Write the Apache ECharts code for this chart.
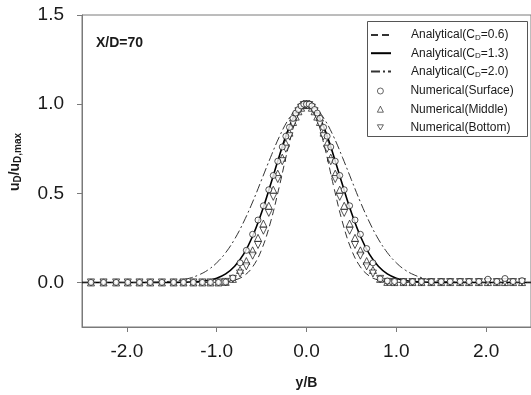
<!DOCTYPE html>
<html><head><meta charset="utf-8">
<script src="https://cdn.jsdelivr.net/npm/echarts@6/dist/echarts.min.js"></script>
<style>html,body{margin:0;padding:0;background:#fff}#c{width:531px;height:395px}</style>
</head><body><div id="c"></div>
<script>
// Analytical curves
const lineX = [-2.5,-2.0,-1.8,-1.7,-1.6,-1.5,-1.4,-1.3,-1.2,-1.1,-1.0,-0.9,-0.8,-0.7,-0.6,-0.5,-0.4,-0.3,-0.2,-0.1,0,0.1,0.2,0.3,0.4,0.5,0.6,0.7,0.8,0.9,1.0,1.1,1.2,1.3,1.4,1.5,1.6,1.7,1.8,2.0,2.5];
const cd06 = [0,0,0,0,0,0,0,0,0,0,0.001,0.004,0.013,0.036,0.087,0.184,0.339,0.544,0.763,0.935,1,0.935,0.763,0.544,0.339,0.184,0.087,0.036,0.013,0.004,0.001,0,0,0,0,0,0,0,0,0,0];
const cd13 = [0,0,0,0,0,0,0.001,0.002,0.005,0.011,0.024,0.048,0.091,0.159,0.259,0.392,0.549,0.714,0.861,0.963,1,0.963,0.861,0.714,0.549,0.392,0.259,0.159,0.091,0.048,0.024,0.011,0.005,0.002,0.001,0,0,0,0,0,0];
const cd20 = [0,0,0.001,0.002,0.004,0.007,0.013,0.024,0.042,0.069,0.110,0.167,0.243,0.339,0.451,0.576,0.702,0.820,0.915,0.978,1,0.978,0.915,0.820,0.702,0.576,0.451,0.339,0.243,0.167,0.110,0.069,0.042,0.024,0.013,0.007,0.004,0.002,0.001,0,0];
// Numerical results
const numX = [-2.40,-2.26,-2.12,-1.99,-1.86,-1.74,-1.61,-1.48,-1.37,-1.26,-1.16,-1.07,-0.98,-0.90,-0.82,-0.74,-0.67,-0.60,-0.54,-0.48,-0.42,-0.37,-0.32,-0.27,-0.23,-0.19,-0.15,-0.12,-0.09,-0.06,-0.03,0.00,0.03,0.06,0.09,0.12,0.15,0.19,0.23,0.27,0.32,0.37,0.42,0.48,0.54,0.60,0.67,0.74,0.82,0.90,0.98,1.08,1.18,1.28,1.39,1.50,1.60,1.71,1.81,1.92,2.02,2.12,2.21,2.30,2.40];
const surface = [0,0,0,0,0,0,0,0,0,0,0,0,0,0.002,0.025,0.11,0.18,0.27,0.35,0.43,0.52,0.60,0.68,0.76,0.82,0.87,0.92,0.95,0.97,0.99,1.0,1.0,1.0,0.99,0.97,0.95,0.92,0.87,0.82,0.76,0.68,0.60,0.52,0.43,0.35,0.27,0.19,0.11,0.02,0.008,0.005,0.004,0.004,0.004,0.004,0.004,0.004,0.005,0.005,0.005,0.018,0.005,0.022,0.005,0.01];
const middle = [0,0,0,0,0,0,0,0,0,0,0,0,0,0.003,0.02,0.07,0.12,0.18,0.25,0.33,0.43,0.52,0.61,0.70,0.78,0.84,0.90,0.93,0.96,0.98,0.995,1.0,0.995,0.98,0.96,0.93,0.90,0.84,0.78,0.70,0.61,0.52,0.43,0.33,0.25,0.18,0.12,0.07,0.02,0.003,0.002,0.002,0.002,0.002,0.002,0.002,0.002,0.002,0.002,0.002,0.002,0.002,0.002,0.002,0.002];
const bottom = [0,0,0,0,0,0,0,0,0,0,0,0,0,0.003,0.02,0.05,0.09,0.15,0.21,0.29,0.39,0.48,0.58,0.68,0.75,0.82,0.89,0.93,0.96,0.98,0.995,1.0,0.995,0.98,0.96,0.93,0.89,0.82,0.75,0.68,0.58,0.48,0.39,0.29,0.21,0.15,0.09,0.05,0.02,0.003,0.002,0.002,0.002,0.002,0.002,0.002,0.002,0.002,0.002,0.002,0.002,0.002,0.002,0.002,0.002];
const xTicks = [-2, -1, 0, 1, 2];
const yTicks = [0, 0.5, 1.0, 1.5];
const names = ['Analytical(CD=0.6)','Analytical(CD=1.3)','Analytical(CD=2.0)','Numerical(Surface)','Numerical(Middle)','Numerical(Bottom)'];

const zip = (xs, ys) => xs.map((x, i) => [x, ys[i]]);
const FONT = '"Liberation Sans", Arial, sans-serif';
const axisCol = '#7a7a7a';
const txtCol = '#1a1a1a';
const TRI_DOWN = 'path://M0,0 L10,0 L5,8.66 Z';

const chart = echarts.init(document.getElementById('c'), null, {renderer: 'canvas'});
const legendFmt = (n) => {
  const m = n.match(/^Analytical\(CD=(.*)\)$/);
  if (m) return '{n|Analytical(C}{s|D}{n|=' + m[1] + ')}';
  return '{n|' + n + '}';
};
const legendText = {
  fontFamily: FONT, fontSize: 12, color: txtCol, lineHeight: 14,
  rich: {
    n: {fontFamily: FONT, fontSize: 12, color: txtCol, lineHeight: 14},
    s: {fontFamily: FONT, fontSize: 8, color: txtCol, lineHeight: 14, verticalAlign: 'bottom', padding: [5,0,0,0]}
  }
};
const mk = (sym, size) => ({symbol: sym, symbolSize: size});

chart.setOption({
  animation: false,
  backgroundColor: '#fff',
  grid: {left: 82, right: -2, top: 15, bottom: 68, show: true, borderColor: axisCol, borderWidth: 1},
  xAxis: {
    type: 'value', min: -2.5, max: 2.5,
    axisLine: {show: true, onZero: false, lineStyle: {color: axisCol, width: 1}},
    axisTick: {show: true, inside: false, length: 5, lineStyle: {color: axisCol}, customValues: xTicks},
    axisLabel: {customValues: xTicks, formatter: v => v.toFixed(1), fontFamily: FONT, fontSize: 19, color: txtCol, margin: 15},
    splitLine: {show: false},
    name: 'y/B', nameLocation: 'middle', nameGap: 49,
    nameTextStyle: {fontFamily: FONT, fontSize: 14, fontWeight: 'bold', color: txtCol}
  },
  yAxis: {
    type: 'value', min: -0.25, max: 1.5,
    axisLine: {show: true, onZero: false, lineStyle: {color: axisCol, width: 1}},
    axisTick: {show: true, inside: false, length: 5, lineStyle: {color: axisCol}, customValues: yTicks},
    axisLabel: {customValues: yTicks, formatter: v => v.toFixed(1), fontFamily: FONT, fontSize: 19, color: txtCol, margin: 18},
    splitLine: {show: false}
  },
  legend: [
    {
      data: names.slice(0, 3), orient: 'vertical', left: 370, top: 28, z: 10, padding: 0,
      itemWidth: 20, itemHeight: 10, itemGap: 4.2,
      itemStyle: {opacity: 0},
      formatter: legendFmt, textStyle: Object.assign({padding: [0,0,0,15]}, legendText),
      selectedMode: false
    },
    {
      data: names.slice(3), orient: 'vertical', left: 377, top: 84, z: 10, padding: 0,
      itemWidth: 6, itemHeight: 6, itemGap: 4.2,
      itemStyle: {borderWidth: 0.8},
      formatter: legendFmt, textStyle: Object.assign({padding: [0,0,0,22]}, legendText),
      selectedMode: false
    }
  ],
  graphic: [
    {type: 'rect', left: 367, top: 21, z: 1, shape: {width: 160, height: 115},
     style: {fill: '#fff', stroke: '#555', lineWidth: 1}},
    {type: 'text', left: 96, top: 36, z: 5,
     style: {text: 'X/D=70', fontFamily: FONT, fontSize: 14, fontWeight: 'bold', fill: txtCol}},
    {type: 'text', x: 15, y: 162, rotation: Math.PI / 2, z: 5,
     style: {
       text: '{b|u}{s|D}{b|/u}{s|D,max}', align: 'center', verticalAlign: 'middle',
       rich: {
         b: {fontFamily: FONT, fontSize: 14, fontWeight: 'bold', fill: txtCol, lineHeight: 16},
         s: {fontFamily: FONT, fontSize: 10, fontWeight: 'bold', fill: txtCol, lineHeight: 16, padding: [6,0,0,0]}
       }
     }}
  ],
  series: [
    {name: names[0], type: 'line', data: zip(lineX, cd06), symbol: 'none', smooth: 0.4, z: 2,
     lineStyle: {color: '#333', width: 1, type: [7, 4]}, itemStyle: {color: '#333'}},
    {name: names[1], type: 'line', data: zip(lineX, cd13), symbol: 'none', smooth: 0.4, z: 2,
     lineStyle: {color: '#000', width: 1.6, type: 'solid'}, itemStyle: {color: '#000'}},
    {name: names[2], type: 'line', data: zip(lineX, cd20), symbol: 'none', smooth: 0.4, z: 2,
     lineStyle: {color: '#333', width: 1, type: [9, 3, 2, 3]}, itemStyle: {color: '#333'}},
    Object.assign({name: names[3], type: 'scatter', data: zip(numX, surface), z: 4,
     itemStyle: {color: '#fff', borderColor: '#111', borderWidth: 0.9}}, mk('circle', 6)),
    Object.assign({name: names[4], type: 'scatter', data: zip(numX, middle), z: 3,
     itemStyle: {color: '#fff', borderColor: '#111', borderWidth: 0.9}}, mk('triangle', 7)),
    Object.assign({name: names[5], type: 'scatter', data: zip(numX, bottom), z: 3,
     itemStyle: {color: '#fff', borderColor: '#111', borderWidth: 0.9}}, mk(TRI_DOWN, 7))
  ]
});
</script></body></html>
